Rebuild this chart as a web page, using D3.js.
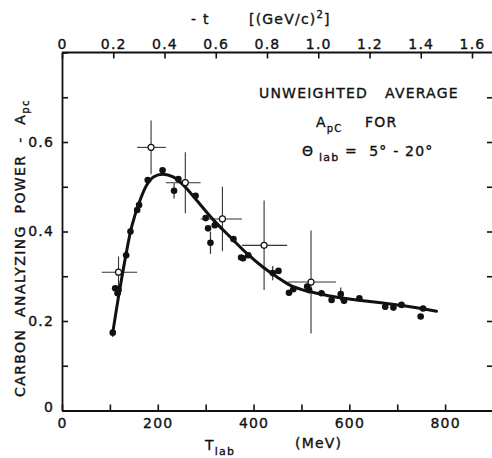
<!DOCTYPE html>
<html>
<head>
<meta charset="utf-8">
<script src="https://cdn.jsdelivr.net/npm/d3@7"></script>
<style>
  html, body { margin: 0; padding: 0; background: #fff; }
  #container { width: 492px; height: 458px; }
  text { font-family: "DejaVu Sans", sans-serif; fill: #111; white-space: pre; }
</style>
</head>
<body>
<div id="container"></div>
<script>
// 实心点（各实验的测量值）：入射动能 T (MeV)、分析本领 A、竖直误差（0 表示无误差棒）
const dotT = [106, 111, 116, 118, 134, 143, 157, 161, 179, 210, 234, 243, 279, 300, 305, 310, 319, 358, 374, 378, 389, 440, 452, 474, 483, 512, 516, 542, 563, 582, 589, 621, 675, 692, 709, 749, 754];
const dotA = [0.174, 0.273, 0.262, 0.269, 0.347, 0.40, 0.448, 0.459, 0.515, 0.537, 0.491, 0.517, 0.48, 0.43, 0.407, 0.375, 0.414, 0.383, 0.342, 0.340, 0.347, 0.307, 0.312, 0.263, 0.271, 0.277, 0.269, 0.262, 0.247, 0.26, 0.245, 0.251, 0.232, 0.230, 0.236, 0.21, 0.228];
const dotErr = [0.01, 0, 0.017, 0, 0, 0, 0, 0, 0, 0, 0.017, 0, 0, 0, 0, 0.025, 0, 0, 0, 0, 0, 0.016, 0, 0, 0, 0, 0, 0, 0, 0.015, 0, 0, 0, 0, 0, 0, 0];

// 空心点（不加权平均）：中心值、横向区间、竖直误差
const avgT = [118, 186, 257.5, 335, 422, 520];
const avgA = [0.309, 0.588, 0.509, 0.428, 0.369, 0.287];
const avgTLo = [83, 157, 217, 289.5, 376, 471.5];
const avgTHi = [157, 217, 289.5, 376, 470, 572];
const avgErr = [0.035, 0.06, 0.068, 0.072, 0.1, 0.115];

// 拟合曲线
const curveT = [106, 118, 131.5, 145.5, 163, 177, 191, 211.5, 232, 253, 281, 316, 351, 386, 420, 448, 476, 504, 532, 574, 615, 671, 727, 782];
const curveA = [0.174, 0.254, 0.336, 0.411, 0.47, 0.504, 0.522, 0.528, 0.522, 0.504, 0.47, 0.426, 0.388, 0.351, 0.32, 0.299, 0.28, 0.269, 0.262, 0.253, 0.247, 0.24, 0.232, 0.222];

// 刻度
const xTicks = d3.range(0, 901, 100);
const yTicks = d3.range(0, 0.81, 0.1);
const tTicks = d3.range(0, 1.61, 0.2);

const width = 492;
const height = 458;

const svg = d3
  .select("#container")
  .append("svg")
  .attr("width", width)
  .attr("height", height)
  .attr("viewBox", [0, 0, width, height]);

// 比例尺
const x = d3.scaleLinear([0, 900], [62, 493]);
const y = d3.scaleLinear([0, 0.8], [410.5, 52.5]);
const t = d3.scaleLinear([0, 1.6], [62, 472]);

const fmtX = (d) => (d % 200 === 0 ? d3.format("d")(d) : "");
const fmtY = (d) => {
  const v = Math.round(d * 10);
  if (v === 0) return "0";
  return v % 2 === 0 && v < 8 ? d3.format(".1f")(d) : "";
};
const fmtT = (d) => (Math.round(d * 10) === 0 ? "0" : d3.format(".1f")(d));

// 文字略加描边，模仿原图较粗的字样
function ink(sel) {
  sel.attr("stroke", "#111").attr("stroke-width", 0.35);
}

function styleAxis(g) {
  g.select(".domain").attr("stroke", "#111").attr("stroke-width", 1.8);
  g.selectAll(".tick line").attr("stroke", "#111").attr("stroke-width", 1.6);
  g.selectAll(".tick text")
    .attr("font-size", 14)
    .attr("letter-spacing", 1.2)
    .attr("fill", "#111")
    .attr("font-family", "DejaVu Sans, sans-serif")
    .call(ink);
}

// 底部坐标轴（刻度朝内）
svg
  .append("g")
  .attr("transform", `translate(0,${y(0)})`)
  .call(d3.axisBottom(x).tickValues(xTicks).tickFormat(fmtX).tickSize(-6).tickSizeOuter(0).tickPadding(8))
  .call(styleAxis);

// 左侧坐标轴
svg
  .append("g")
  .attr("transform", `translate(${x(0)},0)`)
  .call(d3.axisLeft(y).tickValues(yTicks).tickFormat(fmtY).tickSize(-6).tickSizeOuter(0).tickPadding(8))
  .call(styleAxis)
  .call((g) => g.selectAll(".tick").filter((d) => d === 0).select("text").attr("dy", "0.1em"));

// 顶部坐标轴 -t
svg
  .append("g")
  .attr("transform", `translate(0,${y(0.8)})`)
  .call(d3.axisTop(t).tickValues(tTicks).tickFormat(fmtT).tickSize(-6).tickSizeOuter(0).tickPadding(4))
  .call(styleAxis)
  .call((g) => g.select(".domain").attr("d", `M${x(0)},0H${width}`));

// 右侧坐标轴（无标签）
svg
  .append("g")
  .attr("transform", `translate(${x(900)},0)`)
  .call(d3.axisRight(y).tickValues(yTicks.filter((d) => d > 0.05 && d < 0.75)).tickFormat("").tickSize(-6).tickSizeOuter(0))
  .call(styleAxis);

// 误差棒（实心点）
svg
  .append("g")
  .attr("stroke", "#333")
  .attr("stroke-width", 1.2)
  .selectAll("line")
  .data(d3.range(dotT.length).filter((i) => dotErr[i] > 0))
  .join("line")
  .attr("x1", (i) => x(dotT[i]))
  .attr("x2", (i) => x(dotT[i]))
  .attr("y1", (i) => y(dotA[i] - dotErr[i]))
  .attr("y2", (i) => y(dotA[i] + dotErr[i]));

// 空心点的十字误差棒
const avg = svg.append("g").attr("stroke", "#333").attr("stroke-width", 1.1);
avg
  .selectAll("line.h")
  .data(d3.range(avgT.length))
  .join("line")
  .attr("class", "h")
  .attr("x1", (i) => x(avgTLo[i]))
  .attr("x2", (i) => x(avgTHi[i]))
  .attr("y1", (i) => y(avgA[i]))
  .attr("y2", (i) => y(avgA[i]));
avg
  .selectAll("line.v")
  .data(d3.range(avgT.length))
  .join("line")
  .attr("class", "v")
  .attr("x1", (i) => x(avgT[i]))
  .attr("x2", (i) => x(avgT[i]))
  .attr("y1", (i) => y(avgA[i] - avgErr[i]))
  .attr("y2", (i) => y(avgA[i] + avgErr[i]));

// 拟合曲线
const line = d3
  .line()
  .curve(d3.curveCatmullRom)
  .x((i) => x(curveT[i]))
  .y((i) => y(curveA[i]));

svg
  .append("path")
  .attr("fill", "none")
  .attr("stroke", "#111")
  .attr("stroke-width", 3)
  .attr("stroke-linecap", "round")
  .attr("stroke-linejoin", "round")
  .attr("d", line(d3.range(curveT.length)));

// 实心点
svg
  .append("g")
  .attr("fill", "#111")
  .selectAll("circle")
  .data(d3.range(dotT.length))
  .join("circle")
  .attr("cx", (i) => x(dotT[i]))
  .attr("cy", (i) => y(dotA[i]))
  .attr("r", 3.3);

// 空心点
svg
  .append("g")
  .attr("fill", "#fff")
  .attr("stroke", "#111")
  .attr("stroke-width", 1.2)
  .selectAll("circle")
  .data(d3.range(avgT.length))
  .join("circle")
  .attr("cx", (i) => x(avgT[i]))
  .attr("cy", (i) => y(avgA[i]))
  .attr("r", 3);

// 坐标轴标题
const labels = svg.append("g").attr("font-size", 14).attr("letter-spacing", 1.2).call(ink);

const tl = labels.append("text").attr("x", 205).attr("y", 450);
tl.append("tspan").text("T");
tl.append("tspan").attr("font-size", 11).attr("dy", 5).text("lab");

labels.append("text").attr("x", 295).attr("y", 448).text("(MeV)");

labels.append("text").attr("x", 191).attr("y", 24).text("- t");
const gev = labels.append("text").attr("x", 249).attr("y", 24);
gev.append("tspan").text("[(GeV/c)");
gev.append("tspan").attr("font-size", 10).attr("dy", -6).text("2");
gev.append("tspan").attr("dy", 6).text("]");

const yl = labels
  .append("text")
  .attr("transform", "translate(25,248) rotate(-90)")
  .attr("text-anchor", "middle")
  .attr("letter-spacing", 1.4);
yl.append("tspan").text("CARBON  ANALYZING  POWER  -  A");
yl.append("tspan").attr("font-size", 10).attr("dy", 4).text("pc");

// 图内注释
const note = svg.append("g").attr("font-size", 14).attr("letter-spacing", 1.2).call(ink);
note.append("text").attr("x", 259).attr("y", 98).text("UNWEIGHTED   AVERAGE");
const n2 = note.append("text").attr("x", 316).attr("y", 127);
n2.append("tspan").text("A");
n2.append("tspan").attr("font-size", 10).attr("dy", 5).text("pC");
n2.append("tspan").attr("dy", -5).text("    FOR");
const n3 = note.append("text").attr("x", 302).attr("y", 156);
n3.append("tspan").text("Θ");
n3.append("tspan").attr("font-size", 11).attr("dy", 5).text(" lab");
n3.append("tspan").attr("dy", -5).text(" =  5° - 20°");
</script>
</body>
</html>
